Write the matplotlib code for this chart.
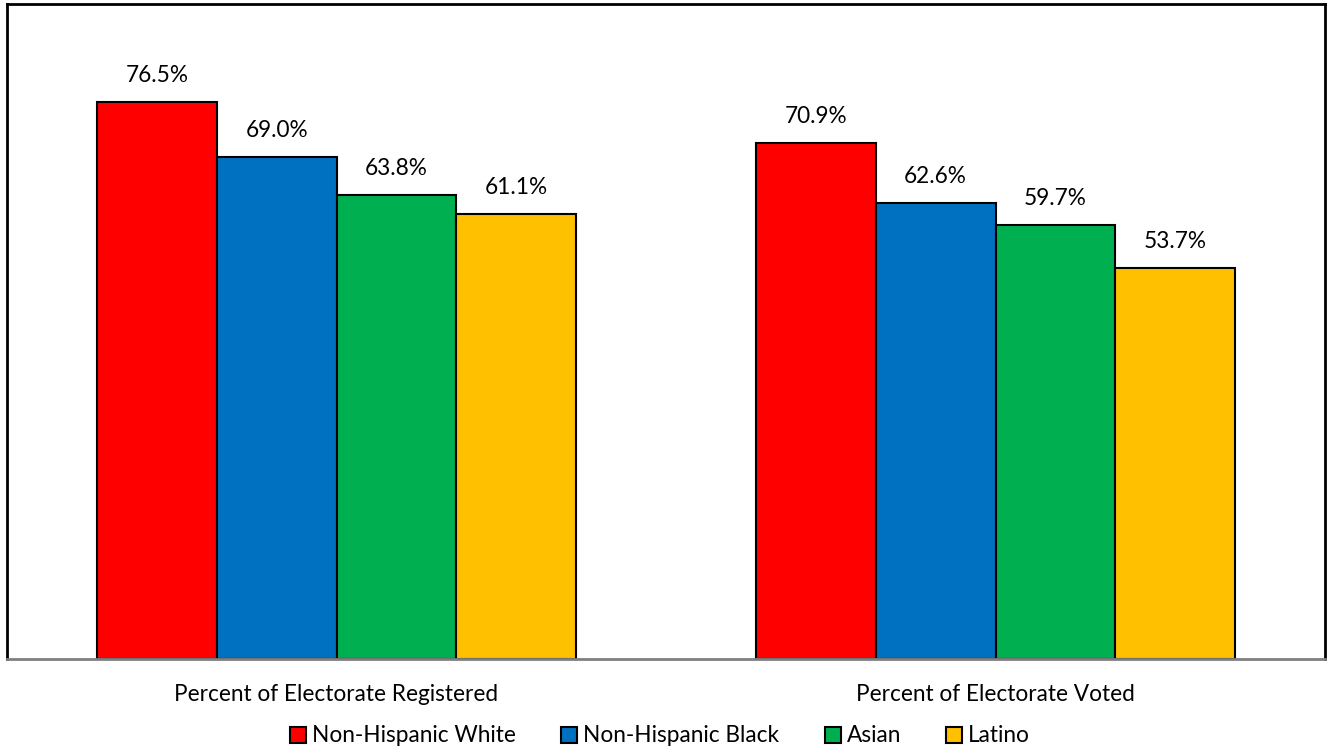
import matplotlib.pyplot as plt
import numpy as np

plt.rcParams['font.family'] = ['Lato', 'DejaVu Sans']

categories = ['Percent of Electorate Registered', 'Percent of Electorate Voted']
groups = ['Non-Hispanic White', 'Non-Hispanic Black', 'Asian', 'Latino']
white = [76.5, 70.9]
black = [69.0, 62.6]
asian = [63.8, 59.7]
latino = [61.1, 53.7]
colors = ['#FF0000', '#0070C0', '#00B050', '#FFC000']

series = [white, black, asian, latino]

fig = plt.figure(figsize=(13.28, 7.48), dpi=100)
ax = fig.add_axes([7/1328, 89/748, 1318/1328, 655/748])

x = np.arange(len(categories))
w = 0.1818
for i, (vals, name, c) in enumerate(zip(series, groups, colors)):
    pos = x + (i - 1.5) * w
    bars = ax.bar(pos, vals, w, color=c, edgecolor='black', linewidth=1.5, label=name)
    for b, v in zip(bars, vals):
        ax.text(b.get_x() + b.get_width()/2, v + 2.2, '%.1f%%' % v,
                ha='center', va='bottom', fontsize=16.3)

ax.set_xlim(-0.5, 1.5)
ax.set_ylim(0, 90)
ax.set_yticks([])
ax.set_xticks(x)
ax.set_xticklabels(categories, fontsize=16.3)
ax.tick_params(axis='x', length=0, pad=18)
for s in ['top', 'left', 'right']:
    ax.spines[s].set_color('black')
    ax.spines[s].set_linewidth(2)
ax.spines['bottom'].set_color('#808080')
ax.spines['bottom'].set_linewidth(2)

fig.legend(loc='center', bbox_to_anchor=(0.497, 12/748), ncol=4, frameon=False,
           fontsize=16.3, handlelength=0.72, handleheight=0.72, handletextpad=0.25,
           columnspacing=2.0)

plt.savefig('out.png', dpi=100)
